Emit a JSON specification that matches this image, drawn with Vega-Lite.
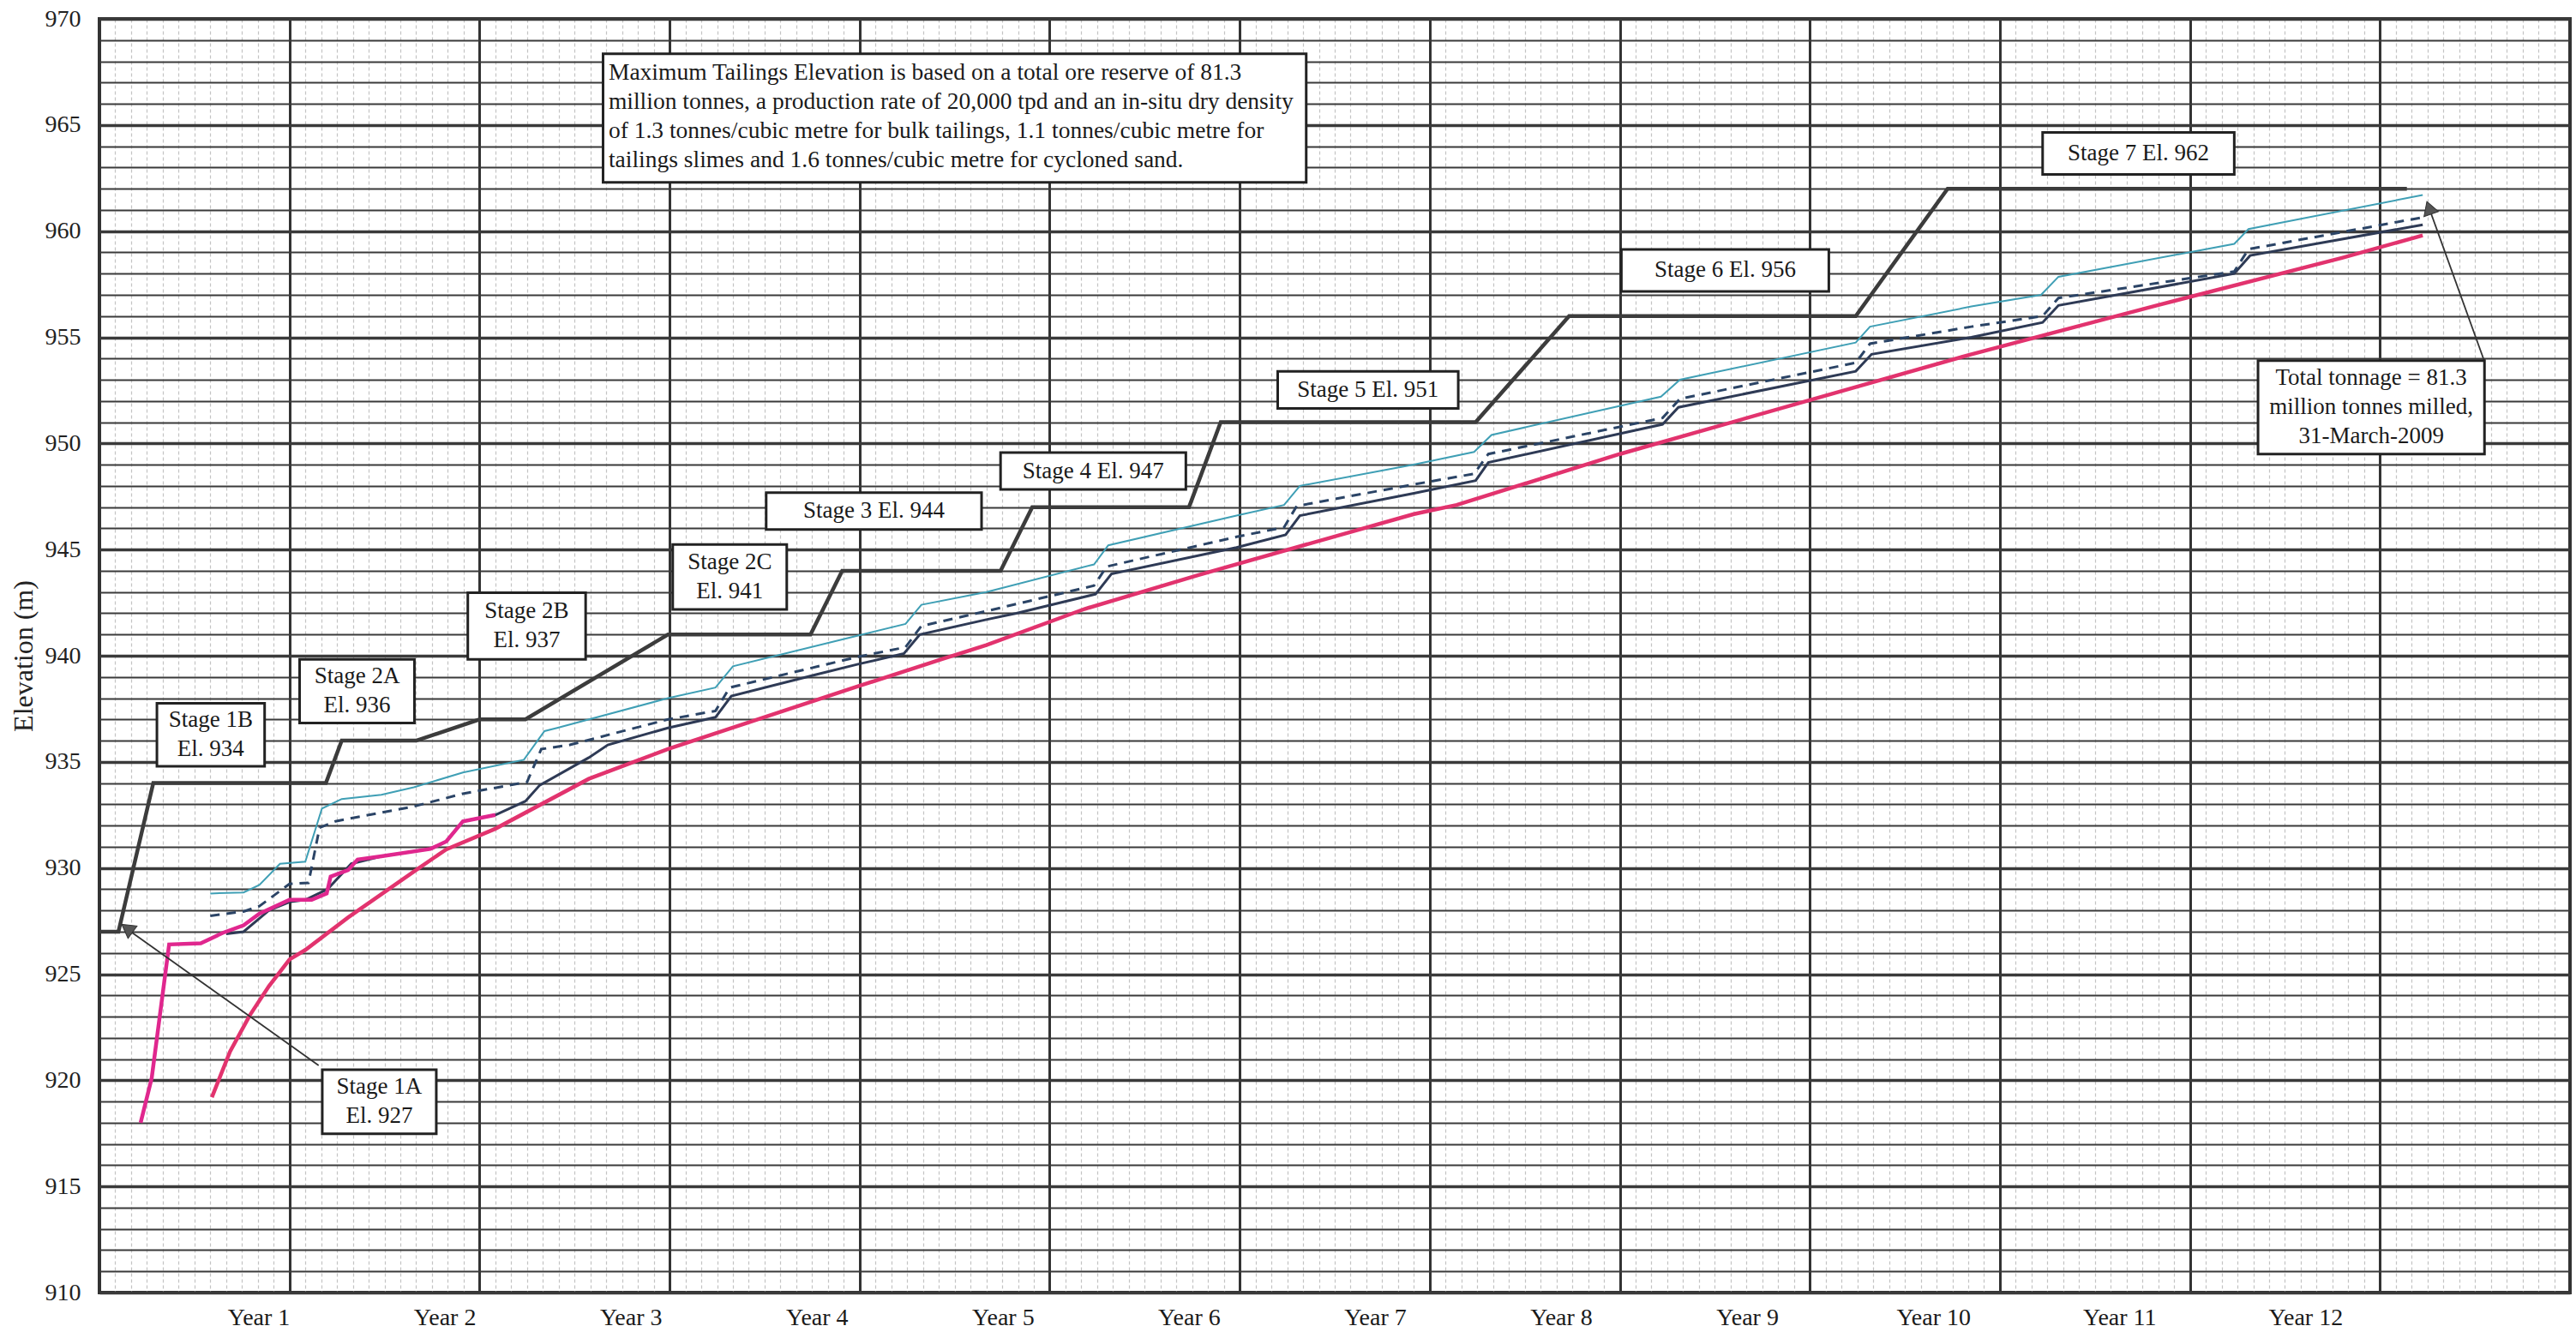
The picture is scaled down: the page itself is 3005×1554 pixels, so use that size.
{
  "$schema": "https://vega.github.io/schema/vega-lite/v6.json",
  "width": 2882,
  "height": 1486,
  "autosize": {"type": "none"},
  "padding": {"left": 116, "top": 22, "right": 7, "bottom": 46},
  "background": "white",
  "config": {
    "view": {"stroke": "#333333", "strokeWidth": 4},
    "font": "Liberation Serif"
  },
  "datasets": {
    "stage": [
      {"m": 0, "v": 927}, {"m": 1.2, "v": 927}, {"m": 3.4, "v": 934}, {"m": 14.3, "v": 934},
      {"m": 15.3, "v": 936}, {"m": 20.0, "v": 936}, {"m": 24.0, "v": 937}, {"m": 26.9, "v": 937},
      {"m": 35.9, "v": 941}, {"m": 44.9, "v": 941}, {"m": 46.9, "v": 944}, {"m": 56.9, "v": 944},
      {"m": 58.9, "v": 947}, {"m": 68.8, "v": 947}, {"m": 70.8, "v": 951}, {"m": 86.9, "v": 951},
      {"m": 92.8, "v": 956}, {"m": 110.9, "v": 956}, {"m": 116.7, "v": 962}, {"m": 145.7, "v": 962}
    ],
    "teal": [
      {"m": 7.0, "v": 928.8}, {"m": 9.1, "v": 928.85}, {"m": 10.1, "v": 929.2}, {"m": 11.4, "v": 930.2},
      {"m": 13.0, "v": 930.3}, {"m": 14.05, "v": 932.8}, {"m": 15.3, "v": 933.25}, {"m": 17.8, "v": 933.45},
      {"m": 19.85, "v": 933.8}, {"m": 22.95, "v": 934.5}, {"m": 26.8, "v": 935.1}, {"m": 28.1, "v": 936.45},
      {"m": 28.9, "v": 936.6}, {"m": 35.9, "v": 938.0}, {"m": 38.9, "v": 938.5}, {"m": 40.0, "v": 939.5},
      {"m": 47.9, "v": 940.95}, {"m": 50.9, "v": 941.5}, {"m": 51.9, "v": 942.4}, {"m": 56.0, "v": 943.0},
      {"m": 62.8, "v": 944.3}, {"m": 63.7, "v": 945.2}, {"m": 71.8, "v": 946.6}, {"m": 74.8, "v": 947.1},
      {"m": 75.8, "v": 948.0}, {"m": 83.0, "v": 949.0}, {"m": 86.8, "v": 949.6}, {"m": 87.9, "v": 950.4},
      {"m": 98.6, "v": 952.2}, {"m": 99.8, "v": 953.0}, {"m": 110.9, "v": 954.75}, {"m": 111.8, "v": 955.5},
      {"m": 118.2, "v": 956.45}, {"m": 122.6, "v": 957.0}, {"m": 123.7, "v": 957.85}, {"m": 134.8, "v": 959.4},
      {"m": 135.7, "v": 960.1}, {"m": 146.7, "v": 961.7}
    ],
    "dashed": [
      {"m": 7.0, "v": 927.75}, {"m": 9.1, "v": 927.95}, {"m": 10.1, "v": 928.2}, {"m": 12.0, "v": 929.25},
      {"m": 13.2, "v": 929.3}, {"m": 13.9, "v": 931.9}, {"m": 14.9, "v": 932.2}, {"m": 19.85, "v": 932.9},
      {"m": 22.95, "v": 933.5}, {"m": 27.0, "v": 934.05}, {"m": 27.9, "v": 935.6}, {"m": 29.7, "v": 935.8},
      {"m": 35.9, "v": 937.0}, {"m": 38.9, "v": 937.4}, {"m": 39.8, "v": 938.5}, {"m": 47.9, "v": 939.95},
      {"m": 50.9, "v": 940.4}, {"m": 51.9, "v": 941.4}, {"m": 56.0, "v": 942.1}, {"m": 62.8, "v": 943.3},
      {"m": 63.6, "v": 944.2}, {"m": 71.8, "v": 945.6}, {"m": 74.8, "v": 946.05}, {"m": 75.6, "v": 947.05},
      {"m": 83.0, "v": 948.07}, {"m": 86.8, "v": 948.57}, {"m": 87.7, "v": 949.5}, {"m": 98.7, "v": 951.2},
      {"m": 99.8, "v": 952.1}, {"m": 110.9, "v": 953.8}, {"m": 111.8, "v": 954.7}, {"m": 118.2, "v": 955.5},
      {"m": 122.7, "v": 956.0}, {"m": 123.7, "v": 956.85}, {"m": 134.8, "v": 958.1}, {"m": 135.7, "v": 959.15},
      {"m": 146.7, "v": 960.65}
    ],
    "navy": [
      {"m": 8.0, "v": 926.9}, {"m": 9.1, "v": 927.0}, {"m": 10.7, "v": 928.0}, {"m": 12.0, "v": 928.4},
      {"m": 13.0, "v": 928.5}, {"m": 14.4, "v": 929.0}, {"m": 15.9, "v": 930.2}, {"m": 17.8, "v": 930.55},
      {"m": 20.9, "v": 930.9}, {"m": 21.9, "v": 931.25}, {"m": 22.95, "v": 932.2}, {"m": 25.0, "v": 932.5},
      {"m": 26.9, "v": 933.15}, {"m": 27.8, "v": 933.9}, {"m": 30.9, "v": 935.2}, {"m": 32.1, "v": 935.8},
      {"m": 35.9, "v": 936.6}, {"m": 38.9, "v": 937.1}, {"m": 39.9, "v": 938.1}, {"m": 45.2, "v": 939.1},
      {"m": 47.9, "v": 939.6}, {"m": 50.8, "v": 940.1}, {"m": 51.8, "v": 941.0}, {"m": 56.0, "v": 941.7},
      {"m": 57.9, "v": 942.0}, {"m": 62.9, "v": 942.9}, {"m": 63.9, "v": 943.85}, {"m": 71.8, "v": 945.1},
      {"m": 74.9, "v": 945.7}, {"m": 75.8, "v": 946.6}, {"m": 83.0, "v": 947.65}, {"m": 86.9, "v": 948.25},
      {"m": 87.7, "v": 949.1}, {"m": 98.7, "v": 950.9}, {"m": 99.7, "v": 951.7}, {"m": 110.9, "v": 953.4},
      {"m": 111.9, "v": 954.2}, {"m": 118.2, "v": 955.0}, {"m": 122.7, "v": 955.7}, {"m": 123.7, "v": 956.5},
      {"m": 134.8, "v": 958.0}, {"m": 135.8, "v": 958.85}, {"m": 146.7, "v": 960.3}
    ],
    "magenta": [
      {"m": 2.6, "v": 918.0}, {"m": 3.3, "v": 920.1}, {"m": 4.4, "v": 926.4}, {"m": 6.4, "v": 926.45},
      {"m": 7.8, "v": 926.95}, {"m": 9.1, "v": 927.3}, {"m": 10.1, "v": 927.85}, {"m": 12.0, "v": 928.5},
      {"m": 13.4, "v": 928.5}, {"m": 14.35, "v": 928.8}, {"m": 14.6, "v": 929.6}, {"m": 15.7, "v": 929.9},
      {"m": 16.3, "v": 930.4}, {"m": 17.8, "v": 930.55}, {"m": 20.9, "v": 930.9}, {"m": 21.9, "v": 931.25},
      {"m": 22.95, "v": 932.2}, {"m": 25.0, "v": 932.5}
    ],
    "red": [
      {"m": 7.1, "v": 919.2}, {"m": 8.25, "v": 921.36}, {"m": 9.5, "v": 923.07}, {"m": 10.7, "v": 924.43},
      {"m": 12.0, "v": 925.69}, {"m": 13.0, "v": 926.14}, {"m": 15.7, "v": 927.67}, {"m": 19.85, "v": 929.83},
      {"m": 21.9, "v": 930.88}, {"m": 25.0, "v": 931.85}, {"m": 30.9, "v": 934.2}, {"m": 35.9, "v": 935.6},
      {"m": 47.9, "v": 938.56}, {"m": 53.3, "v": 939.86}, {"m": 56.0, "v": 940.5}, {"m": 62.2, "v": 942.2},
      {"m": 69.4, "v": 943.8}, {"m": 83.0, "v": 946.67}, {"m": 85.7, "v": 947.1}, {"m": 96.0, "v": 949.5},
      {"m": 118.2, "v": 954.2}, {"m": 129.9, "v": 956.5}, {"m": 141.6, "v": 958.74}, {"m": 146.7, "v": 959.8}
    ],
    "arrows": [
      {"a": "1A", "m": 13.84, "v": 920.7}, {"a": "1A", "m": 1.6, "v": 927.2},
      {"a": "total", "m": 150.58, "v": 953.9}, {"a": "total", "m": 147.05, "v": 961.2}
    ],
    "head1A": [{"m": 1.75, "v": 927.16}],
    "headTotal": [{"m": 147.1, "v": 961.1}],
    "boxes": [
      {"m": 14.07, "m2": 21.27, "v": 917.48, "v2": 920.5},
      {"m": 3.63, "m2": 10.43, "v": 934.79, "v2": 937.76},
      {"m": 12.64, "m2": 19.89, "v": 936.83, "v2": 939.83},
      {"m": 23.26, "m2": 30.7, "v": 939.83, "v2": 942.97},
      {"m": 36.2, "m2": 43.4, "v": 942.18, "v2": 945.24},
      {"m": 42.1, "m2": 55.7, "v": 945.95, "v2": 947.68},
      {"m": 56.9, "m2": 68.6, "v": 947.83, "v2": 949.57},
      {"m": 74.4, "m2": 85.8, "v": 951.65, "v2": 953.4},
      {"m": 96.1, "m2": 109.2, "v": 957.16, "v2": 959.14},
      {"m": 122.7, "m2": 134.8, "v": 962.67, "v2": 964.65},
      {"m": 136.3, "m2": 150.6, "v": 949.5, "v2": 953.9},
      {"m": 31.8, "m2": 76.2, "v": 962.3, "v2": 968.35}
    ],
    "labels2": [
      {"m": 17.67, "v": 919.0, "text": "Stage 1A\nEl. 927"},
      {"m": 7.03, "v": 936.28, "text": "Stage 1B\nEl. 934"},
      {"m": 16.27, "v": 938.33, "text": "Stage 2A\nEl. 936"},
      {"m": 26.98, "v": 941.4, "text": "Stage 2B\nEl. 937"},
      {"m": 39.8, "v": 943.71, "text": "Stage 2C\nEl. 941"}
    ],
    "labels1": [
      {"m": 48.9, "v": 946.82, "text": "Stage 3 El. 944"},
      {"m": 62.75, "v": 948.7, "text": "Stage 4 El. 947"},
      {"m": 80.1, "v": 952.52, "text": "Stage 5 El. 951"},
      {"m": 102.65, "v": 958.15, "text": "Stage 6 El. 956"},
      {"m": 128.75, "v": 963.66, "text": "Stage 7 El. 962"}
    ],
    "labels3": [
      {"m": 143.45, "v": 951.7, "text": "Total tonnage = 81.3\nmillion tonnes milled,\n31-March-2009"}
    ],
    "note": [
      {"m": 32.15, "v": 965.4, "text": "Maximum Tailings Elevation is based on a total ore reserve of 81.3\nmillion tonnes, a production rate of 20,000 tpd and an in-situ dry density\nof 1.3 tonnes/cubic metre for bulk tailings, 1.1 tonnes/cubic metre for\ntailings slimes and 1.6 tonnes/cubic metre for cycloned sand."}
    ],
    "years": [
      {"m": 10.07, "v": 910, "label": "Year 1"}, {"m": 21.82, "v": 910, "label": "Year 2"}, {"m": 33.57, "v": 910, "label": "Year 3"},
      {"m": 45.32, "v": 910, "label": "Year 4"}, {"m": 57.07, "v": 910, "label": "Year 5"}, {"m": 68.82, "v": 910, "label": "Year 6"},
      {"m": 80.57, "v": 910, "label": "Year 7"}, {"m": 92.32, "v": 910, "label": "Year 8"}, {"m": 104.07, "v": 910, "label": "Year 9"},
      {"m": 115.82, "v": 910, "label": "Year 10"}, {"m": 127.57, "v": 910, "label": "Year 11"}, {"m": 139.32, "v": 910, "label": "Year 12"}
    ]
  },
  "encoding": {
    "x": {
      "field": "m", "type": "quantitative",
      "scale": {"domain": [0, 156], "nice": false, "zero": false},
      "axis": {
        "title": null, "labels": false, "ticks": false, "domain": false, "grid": true,
        "values": [0,1,2,3,4,5,6,7,8,9,10,11,12,13,14,15,16,17,18,19,20,21,22,23,24,25,26,27,28,29,30,31,32,33,34,35,36,37,38,39,40,41,42,43,44,45,46,47,48,49,50,51,52,53,54,55,56,57,58,59,60,61,62,63,64,65,66,67,68,69,70,71,72,73,74,75,76,77,78,79,80,81,82,83,84,85,86,87,88,89,90,91,92,93,94,95,96,97,98,99,100,101,102,103,104,105,106,107,108,109,110,111,112,113,114,115,116,117,118,119,120,121,122,123,124,125,126,127,128,129,130,131,132,133,134,135,136,137,138,139,140,141,142,143,144,145,146,147,148,149,150,151,152,153,154,155,156],
        "gridColor": {"condition": {"test": "datum.value % 12 === 0", "value": "#333333"}, "value": "#c4c4c4"},
        "gridWidth": {"condition": {"test": "datum.value % 12 === 0", "value": 3}, "value": 1.2},
        "gridDash": {"condition": {"test": "datum.value % 12 === 0", "value": []}, "value": [4, 3]},
        "gridOpacity": 1
      }
    },
    "y": {
      "field": "v", "type": "quantitative",
      "scale": {"domain": [910, 970], "nice": false, "zero": false},
      "axis": {
        "title": "Elevation (m)", "titleFont": "Liberation Serif", "titleFontSize": 32,
        "titleFontWeight": "normal", "titleColor": "#222222", "titlePadding": 8,
        "values": [910,911,912,913,914,915,916,917,918,919,920,921,922,923,924,925,926,927,928,929,930,931,932,933,934,935,936,937,938,939,940,941,942,943,944,945,946,947,948,949,950,951,952,953,954,955,956,957,958,959,960,961,962,963,964,965,966,967,968,969,970],
        "labelExpr": "datum.value % 5 === 0 ? datum.label : ''",
        "labelFont": "Liberation Serif", "labelFontSize": 28, "labelColor": "#222222",
        "labelPadding": 22, "labelOverlap": false, "labelFlush": false,
        "ticks": false, "tickSize": 0, "domain": false, "grid": true,
        "gridColor": "#3a3a3a",
        "gridWidth": {"condition": {"test": "datum.value % 5 === 0", "value": 3.5}, "value": 2},
        "gridOpacity": 1
      }
    }
  },
  "layer": [
    {"data": {"name": "red"}, "mark": {"type": "line", "color": "#e2336e", "strokeWidth": 4.5}},
    {"data": {"name": "navy"}, "mark": {"type": "line", "color": "#2e3a55", "strokeWidth": 3}},
    {"data": {"name": "dashed"}, "mark": {"type": "line", "color": "#2b4466", "strokeWidth": 3, "strokeDash": [11, 8]}},
    {"data": {"name": "teal"}, "mark": {"type": "line", "color": "#3f9fb5", "strokeWidth": 2}},
    {"data": {"name": "magenta"}, "mark": {"type": "line", "color": "#e0278e", "strokeWidth": 4.5}},
    {"data": {"name": "stage"}, "mark": {"type": "line", "color": "#3c3c3c", "strokeWidth": 4.5}},
    {"data": {"name": "arrows"}, "mark": {"type": "line", "color": "#333333", "strokeWidth": 1.8},
      "encoding": {"detail": {"field": "a", "type": "nominal"}}},
    {"data": {"name": "head1A"}, "mark": {"type": "point", "shape": "triangle-up", "filled": true, "color": "#555555", "stroke": "#333333", "strokeWidth": 1, "size": 320, "angle": 306, "opacity": 1}},
    {"data": {"name": "headTotal"}, "mark": {"type": "point", "shape": "triangle-up", "filled": true, "color": "#555555", "stroke": "#333333", "strokeWidth": 1, "size": 320, "angle": 341, "opacity": 1}},
    {"data": {"name": "boxes"}, "mark": {"type": "rect", "fill": "white", "stroke": "#222222", "strokeWidth": 3},
      "encoding": {"x2": {"field": "m2"}, "y2": {"field": "v2"}}},
    {"data": {"name": "labels1"}, "mark": {"type": "text", "font": "Liberation Serif", "fontSize": 27, "color": "#1a1a1a", "align": "center", "baseline": "middle"},
      "encoding": {"text": {"field": "text", "type": "nominal"}}},
    {"data": {"name": "labels2"}, "mark": {"type": "text", "font": "Liberation Serif", "fontSize": 27, "color": "#1a1a1a", "align": "center", "baseline": "middle", "lineBreak": "\n", "lineHeight": 34, "dy": -17},
      "encoding": {"text": {"field": "text", "type": "nominal"}}},
    {"data": {"name": "labels3"}, "mark": {"type": "text", "font": "Liberation Serif", "fontSize": 27, "color": "#1a1a1a", "align": "center", "baseline": "middle", "lineBreak": "\n", "lineHeight": 34, "dy": -34},
      "encoding": {"text": {"field": "text", "type": "nominal"}}},
    {"data": {"name": "note"}, "mark": {"type": "text", "font": "Liberation Serif", "fontSize": 27.5, "color": "#1a1a1a", "align": "left", "baseline": "middle", "lineBreak": "\n", "lineHeight": 34, "dy": -51},
      "encoding": {"text": {"field": "text", "type": "nominal"}}},
    {"data": {"name": "years"}, "mark": {"type": "text", "font": "Liberation Serif", "fontSize": 28, "color": "#1a1a1a", "align": "center", "baseline": "middle", "dy": 30},
      "encoding": {"text": {"field": "label", "type": "nominal"}}}
  ]
}
